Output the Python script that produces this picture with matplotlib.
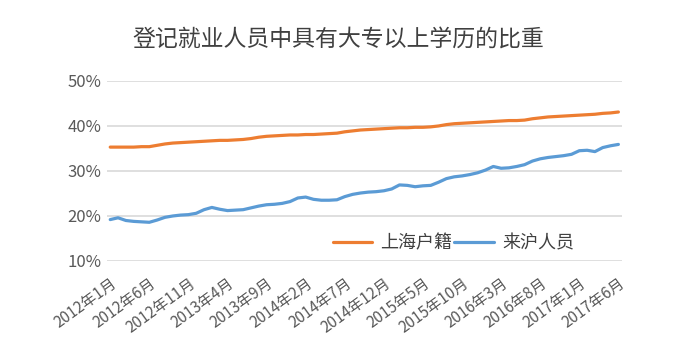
import matplotlib
matplotlib.use("Agg")
import matplotlib.pyplot as plt

plt.rcParams["font.family"] = ["Noto Sans CJK SC", "DejaVu Sans"]
plt.rcParams["axes.unicode_minus"] = False

"""数据：2012年1月 - 2017年6月，按月"""
years = list(range(2012, 2018))
months = [f"{y}年{m}月" for y in years for m in range(1, 13)][:66]

shanghai_huji = [35.3, 35.3, 35.3, 35.3, 35.4, 35.4, 35.7, 36.0, 36.2, 36.3,
                 36.4, 36.5, 36.6, 36.7, 36.8, 36.8, 36.9, 37.0, 37.2, 37.5,
                 37.7, 37.8, 37.9, 38.0, 38.0, 38.1, 38.1, 38.2, 38.3, 38.4,
                 38.7, 38.9, 39.1, 39.2, 39.3, 39.4, 39.5, 39.6, 39.6, 39.7,
                 39.7, 39.8, 40.0, 40.3, 40.5, 40.6, 40.7, 40.8, 40.9, 41.0,
                 41.1, 41.2, 41.2, 41.3, 41.6, 41.8, 42.0, 42.1, 42.2, 42.3,
                 42.4, 42.5, 42.6, 42.8, 42.9, 43.1]
laihu_renyuan = [19.2, 19.6, 19.0, 18.8, 18.7, 18.6, 19.1, 19.7, 20.0, 20.2,
                 20.3, 20.6, 21.4, 21.9, 21.5, 21.2, 21.3, 21.4, 21.8, 22.2,
                 22.5, 22.6, 22.8, 23.2, 24.0, 24.2, 23.7, 23.5, 23.5, 23.6,
                 24.3, 24.8, 25.1, 25.3, 25.4, 25.6, 26.0, 26.9, 26.8, 26.5,
                 26.7, 26.8, 27.5, 28.3, 28.7, 28.9, 29.2, 29.6, 30.2, 31.0,
                 30.6, 30.7, 31.0, 31.4, 32.2, 32.7, 33.0, 33.2, 33.4, 33.7,
                 34.5, 34.6, 34.3, 35.2, 35.6, 35.9]
series_names = ["上海户籍", "来沪人员"]
y_ticks = [10, 20, 30, 40, 50]

x = list(range(len(months)))

fig = plt.figure(figsize=(7, 3.63), dpi=100)
ax = fig.add_axes([0.153, 0.281, 0.736, 0.496])

ax.plot(x, shanghai_huji, color="#ED7D31", linewidth=2.3, label=series_names[0],
        solid_capstyle="round")
ax.plot(x, laihu_renyuan, color="#5B9BD5", linewidth=2.3, label=series_names[1],
        solid_capstyle="round")

ax.set_ylim(10, 50)
ax.set_xlim(-0.4, 65.5)
ax.set_yticks(y_ticks)
ax.set_yticklabels([f"{v}%" for v in y_ticks], fontsize=12, color="#595959")
ax.yaxis.grid(True, color="#D9D9D9", linewidth=1.2)
ax.set_axisbelow(True)

# 每5个月一个刻度
tick_idx = x[::5]
ax.set_xticks(tick_idx)
ax.set_xticklabels([months[i] for i in tick_idx], rotation=36, ha="right",
                   rotation_mode="anchor", fontsize=11, color="#595959")

ax.tick_params(axis="both", length=0)
ax.tick_params(axis="y", pad=4)
ax.tick_params(axis="x", pad=10)
for s in ax.spines.values():
    s.set_visible(False)

ax.legend(loc="center", bbox_to_anchor=(0.672, 0.1), ncol=2, frameon=False,
          fontsize=13, handlelength=2.2, handletextpad=0.45, columnspacing=0.1,
          labelcolor="#404040")

fig.suptitle("登记就业人员中具有大专以上学历的比重", x=0.483, y=0.925,
             fontsize=16.5, color="#404040")

plt.savefig("out.png", dpi=100)
plt.close()
